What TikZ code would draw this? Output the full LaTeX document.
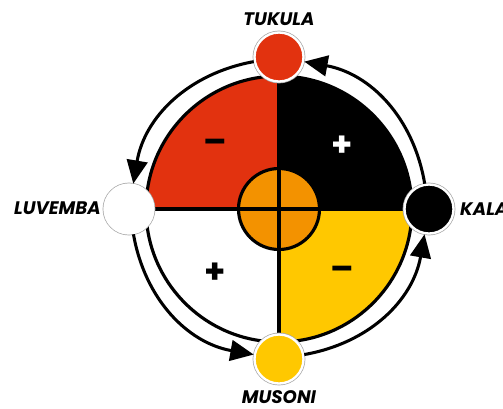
\documentclass[tikz,border=0pt]{standalone}
\usepackage{fontspec}
\setmainfont{Poppins}
\usetikzlibrary{arrows.meta}
\definecolor{tred}{HTML}{E2320F}
\definecolor{tyellow}{HTML}{FFC800}
\definecolor{torange}{HTML}{F39200}
\begin{document}
\begin{tikzpicture}[x=0.03cm,y=0.03cm,
  rim/.style={draw=black,line width=2.7pt},
  season/.style={circle,minimum size=1.47cm,inner sep=0pt,draw=white,line width=2pt,
    preaction={draw=black!35,line width=3.2pt}},
  flow/.style={-{Triangle[length=0.7cm,width=0.62cm]},line width=2.6pt},
  title/.style={font=\fontsize{15.5}{15.5}\selectfont\bfseries\itshape,inner sep=0pt},
  sign/.style={font=\fontsize{29}{29}\selectfont\bfseries,inner sep=0pt}]
\useasboundingbox (-279,-199) rectangle (224,209);
\fill[tred] (0,0) -- (90:133) arc[start angle=90,end angle=180,radius=133] -- cycle;
\fill[black] (0,0) -- (0:133) arc[start angle=0,end angle=90,radius=133] -- cycle;
\fill[tyellow] (0,0) -- (270:133) arc[start angle=270,end angle=360,radius=133] -- cycle;
\node[circle,fill=torange,rim,minimum size=2.43cm,inner sep=0pt] (hub) at (0,0) {};
\draw[rim] (0,0) circle (133);
\draw[rim] (-133,0) -- (133,0);
\draw[rim] (0,-133) -- (0,133);
\node[sign,text=black] at (-64,63) {–};
\node[sign,text=white] at (63,63) {+};
\node[sign,text=black] at (-64,-64) {+};
\node[sign,text=black] at (63,-64) {–};
\node[season,fill=tred] (tukula) at (0,152) {};
\node[season,fill=white] (luvemba) at (-150,0) {};
\node[season,fill=black] (kala) at (150,0) {};
\node[season,fill=tyellow] (musoni) at (0,-150) {};
\draw[flow] (tukula) to[bend right=35] (luvemba);
\draw[flow] (luvemba) to[bend right=35] (musoni);
\draw[flow] (musoni) to[bend right=35] (kala);
\draw[flow] (kala) to[bend right=35] (tukula);
\node[title] at (0,190) {TUKULA};
\node[title,anchor=east] at (-178,1) {LUVEMBA};
\node[title,anchor=west] at (181,0) {KALA};
\node[title] at (0,-188) {MUSONI};
\end{tikzpicture}
\end{document}
